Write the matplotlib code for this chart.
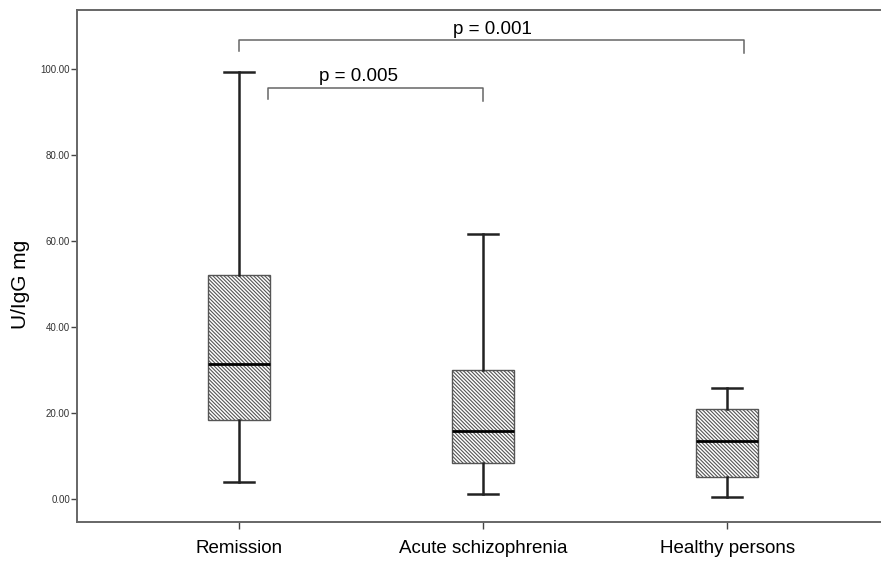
import matplotlib.pyplot as plt

plt.rcParams['font.family'] = ['Liberation Sans', 'DejaVu Sans']
plt.rcParams['hatch.linewidth'] = 0.8
plt.rcParams['hatch.color'] = '#555555'

groups = ["Remission", "Acute schizophrenia", "Healthy persons"]
whislo = [3.9, 1.2, 0.5]
q1 = [18.3, 8.4, 5.1]
med = [31.3, 15.8, 13.6]
q3 = [52.1, 30.1, 21.0]
whishi = [99.3, 61.6, 25.8]

# significance brackets: (left x, right x, height, label x, label)
pairs = [(1.0, 3.07, 106.7, 2.04, "p = 0.001"), (1.12, 2.0, 95.6, 1.49, "p = 0.005")]

stats = []
for i, g in enumerate(groups):
    stats.append(dict(label=g, whislo=whislo[i], q1=q1[i], med=med[i],
                      q3=q3[i], whishi=whishi[i], fliers=[]))

fig = plt.figure(figsize=(8.81, 5.61), dpi=100)
ax = fig.add_axes([0.0874, 0.0695, 0.9126, 0.9125])

bp = ax.bxp(stats, positions=[1, 2, 3], widths=0.255, capwidths=0.125,
            patch_artist=True, showfliers=False,
            boxprops=dict(facecolor='white', edgecolor='#555555', linewidth=1.0,
                          hatch='\\' * 9),
            whiskerprops=dict(color='#222222', linewidth=1.8),
            capprops=dict(color='#222222', linewidth=1.8),
            medianprops=dict(color='black', linewidth=2.0))

for x0, x1, h, tx, txt in pairs:
    ax.plot([x0, x0, x1, x1], [h - 2.6, h, h, h - 3.0], color='#666666', lw=1.1,
            clip_on=False)
    ax.text(tx, h + 0.6, txt, ha='center', va='bottom', fontsize=13.5)

ax.set_xlim(0.336, 3.63)
ax.set_ylim(-5.35, 113.7)
ax.set_yticks([0, 20, 40, 60, 80, 100])
ax.set_yticklabels(["%.2f" % v for v in [0, 20, 40, 60, 80, 100]], fontsize=7, color='#333333')
ax.set_xticks([1, 2, 3])
ax.set_xticklabels(groups, fontsize=13.5)
ax.tick_params(axis='y', length=4, width=1, color='#444444', pad=1)
ax.tick_params(axis='x', length=5, width=1, color='#444444', pad=8)
ax.set_ylabel("U/IgG mg", fontsize=15)
ax.yaxis.set_label_coords(-0.058, 0.465)

for side in ['left', 'top', 'bottom']:
    ax.spines[side].set_color('#666666')
    ax.spines[side].set_linewidth(1.4)
ax.spines['right'].set_visible(False)

fig.savefig("out.png", dpi=100)
